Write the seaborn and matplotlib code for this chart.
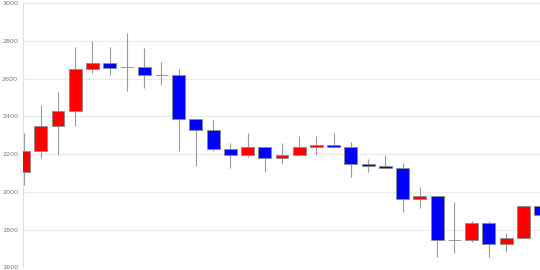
import matplotlib
matplotlib.use("Agg")
import matplotlib.pyplot as plt
import seaborn as sns
import numpy as np

# OHLC values
opens = [2107, 2215, 2348, 2428, 2648, 2680, 2659, 2659, 2618, 2618,
         2387, 2329, 2227, 2195, 2238, 2177, 2195, 2236, 2247, 2236,
         2145, 2137, 2126, 1964, 1977, 1744, 1743, 1835, 1725, 1753, 1925]
highs = [2311, 2458, 2527, 2767, 2800, 2767, 2840, 2760, 2685, 2650,
         2387, 2378, 2257, 2314, 2238, 2257, 2297, 2297, 2309, 2266,
         2176, 2195, 2154, 2027, 1977, 1945, 1846, 1846, 1783, 1925, 1925]
lows = [2036, 2177, 2197, 2348, 2630, 2618, 2534, 2550, 2568, 2215,
        2135, 2218, 2125, 2186, 2107, 2145, 2195, 2195, 2236, 2076,
        2107, 2124, 1895, 1915, 1655, 1674, 1734, 1655, 1680, 1753, 1876]
closes = [2217, 2348, 2428, 2650, 2680, 2657, 2659, 2618, 2618, 2387,
          2329, 2225, 2195, 2238, 2177, 2197, 2238, 2247, 2236, 2148,
          2135, 2124, 1964, 1977, 1744, 1744, 1835, 1725, 1755, 1925, 1876]
y_ticks = [1600, 1800, 2000, 2200, 2400, 2600, 2800, 3000]

sns.set_theme(style="white")
fig = plt.figure(figsize=(5.4, 2.7), dpi=100)
ax = fig.add_axes([23 / 540, 2.7 / 270, 517 / 540, 264.3 / 270])

x = np.arange(len(opens))
o = np.array(opens)
c = np.array(closes)
up = c >= o
colors = np.where(up, "#ff0000", "#0000ff")

ax.vlines(x, lows, highs, color="#999999", linewidth=0.8, zorder=2)
ax.bar(x, c - o, bottom=o, width=0.75, color=colors,
       edgecolor="#8a8a8a", linewidth=0.6, zorder=3)

ax.set_xlim(-0.03, 29.97)
ax.set_ylim(1600, 3000)
ax.set_yticks(y_ticks)
ax.set_yticklabels([str(v) for v in y_ticks])
ax.set_xticks([])
ax.yaxis.grid(True, color="#ebebeb", linewidth=0.8)
ax.set_axisbelow(True)
ax.tick_params(axis="y", length=0, pad=3.5, labelsize=4.6, labelcolor="#777777")
for s in ["top", "right", "bottom"]:
    ax.spines[s].set_visible(False)
ax.spines["left"].set_color("#e0e0e0")
ax.spines["left"].set_linewidth(0.8)
ax.patch.set_alpha(0)

fig.savefig("out.png", dpi=100)
